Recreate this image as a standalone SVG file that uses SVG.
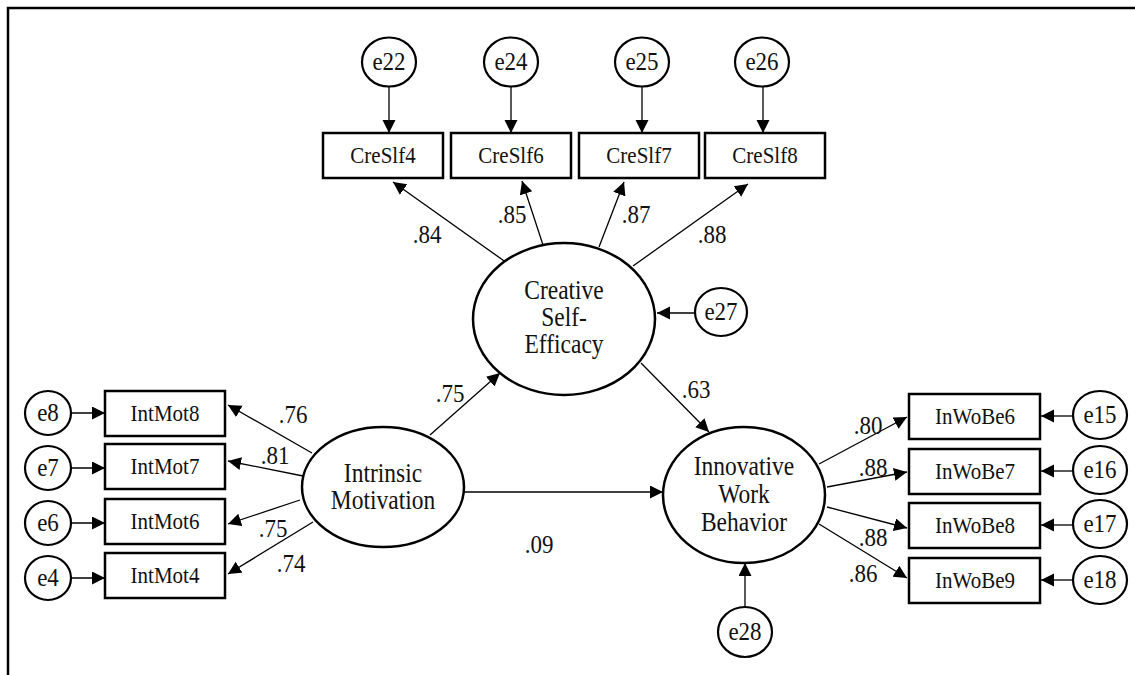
<svg xmlns="http://www.w3.org/2000/svg" width="1135" height="675" viewBox="0 0 1135 675">
<style>
.frame{stroke:#000;stroke-width:2.5;fill:none}
.box{fill:#fff;stroke:#000;stroke-width:2.5}
.ell{fill:#fff;stroke:#000;stroke-width:2.5}
.err{fill:#fff;stroke:#000;stroke-width:2.2}
.c line{stroke:#000;stroke-width:1.3;marker-end:url(#ah)}
text{font-family:"Liberation Serif","Times New Roman",serif;fill:#111;text-anchor:middle}
.bt{font-size:21px}
.et{font-size:23px}
.lt{font-size:23.5px}
.ct{font-size:23px}
</style>
<defs>
<marker id="ah" markerUnits="userSpaceOnUse" markerWidth="14" markerHeight="14" refX="13" refY="6.5" orient="auto">
<path d="M0,0 L13,6.5 L0,13 z" fill="#000"/>
</marker>
</defs>
<rect width="1135" height="675" fill="#fff"/>
<path class="frame" d="M8,675 V8 H1135"/>

<g class="c" id="connectors">
<line x1="389" y1="86" x2="389" y2="133"/>
<line x1="511" y1="87" x2="511" y2="133"/>
<line x1="642" y1="87" x2="642" y2="133"/>
<line x1="763" y1="87" x2="763" y2="133"/>
<line x1="507" y1="263" x2="393" y2="182"/>
<line x1="543" y1="245" x2="522" y2="181"/>
<line x1="599" y1="247" x2="624" y2="182"/>
<line x1="633" y1="266" x2="748" y2="184"/>
<line x1="695" y1="313" x2="657" y2="313"/>
<line x1="71" y1="413" x2="105" y2="413"/>
<line x1="71" y1="468" x2="105" y2="468"/>
<line x1="71" y1="523" x2="105" y2="523"/>
<line x1="71" y1="578" x2="105" y2="578"/>
<line x1="312" y1="453" x2="228" y2="405"/>
<line x1="303" y1="476" x2="228" y2="461"/>
<line x1="300" y1="500" x2="228" y2="524"/>
<line x1="313" y1="522" x2="228" y2="574"/>
<line x1="430" y1="435" x2="500" y2="373"/>
<line x1="464" y1="492" x2="663" y2="492"/>
<line x1="641" y1="363" x2="709" y2="432"/>
<line x1="745" y1="607" x2="745" y2="563"/>
<line x1="819" y1="464" x2="907" y2="417"/>
<line x1="827" y1="487" x2="907" y2="472"/>
<line x1="827" y1="507" x2="907" y2="528"/>
<line x1="819" y1="524" x2="907" y2="578"/>
<line x1="1073" y1="416" x2="1041" y2="416"/>
<line x1="1073" y1="471" x2="1041" y2="471"/>
<line x1="1073" y1="525" x2="1041" y2="525"/>
<line x1="1073" y1="580" x2="1041" y2="580"/>
</g>

<g id="coefficients" class="ct">
<text transform="translate(427,243) scale(1,1.12)">.84</text>
<text transform="translate(512,223) scale(1,1.12)">.85</text>
<text transform="translate(636,223) scale(1,1.12)">.87</text>
<text transform="translate(712,243) scale(1,1.12)">.88</text>
<text transform="translate(293,423) scale(1,1.12)">.76</text>
<text transform="translate(275,464) scale(1,1.12)">.81</text>
<text transform="translate(273,537) scale(1,1.12)">.75</text>
<text transform="translate(291,572) scale(1,1.12)">.74</text>
<text transform="translate(450,402) scale(1,1.12)">.75</text>
<text transform="translate(696,398) scale(1,1.12)">.63</text>
<text transform="translate(539,553) scale(1,1.12)">.09</text>
<text transform="translate(868,434) scale(1,1.12)">.80</text>
<text transform="translate(873,476) scale(1,1.12)">.88</text>
<text transform="translate(873,546) scale(1,1.12)">.88</text>
<text transform="translate(863,582) scale(1,1.12)">.86</text>
</g>

<g id="e22"><ellipse class="err" cx="389" cy="62" rx="27" ry="24.5"/><text class="et" transform="translate(389,70) scale(1,1.12)">e22</text></g>
<g id="e24"><ellipse class="err" cx="511" cy="62" rx="27" ry="24.5"/><text class="et" transform="translate(511,70) scale(1,1.12)">e24</text></g>
<g id="e25"><ellipse class="err" cx="642" cy="62" rx="27" ry="24.5"/><text class="et" transform="translate(642,70) scale(1,1.12)">e25</text></g>
<g id="e26"><ellipse class="err" cx="762" cy="62" rx="27" ry="24.5"/><text class="et" transform="translate(762,70) scale(1,1.12)">e26</text></g>

<g id="CreSlf4"><rect class="box" x="323" y="133" width="120" height="45"/><text class="bt" transform="translate(383,163) scale(1,1.14)">CreSlf4</text></g>
<g id="CreSlf6"><rect class="box" x="451" y="133" width="120" height="45"/><text class="bt" transform="translate(511,163) scale(1,1.14)">CreSlf6</text></g>
<g id="CreSlf7"><rect class="box" x="579" y="133" width="120" height="45"/><text class="bt" transform="translate(639,163) scale(1,1.14)">CreSlf7</text></g>
<g id="CreSlf8"><rect class="box" x="705" y="133" width="120" height="45"/><text class="bt" transform="translate(765,163) scale(1,1.14)">CreSlf8</text></g>

<g id="CSE"><ellipse class="ell" cx="564" cy="319" rx="91" ry="76"/>
<text class="lt" transform="translate(564,299) scale(1,1.12)">Creative</text>
<text class="lt" transform="translate(564,326) scale(1,1.12)">Self-</text>
<text class="lt" transform="translate(564,353) scale(1,1.12)">Efficacy</text></g>

<g id="e27"><ellipse class="err" cx="721" cy="312" rx="26" ry="24"/><text class="et" transform="translate(721,320) scale(1,1.12)">e27</text></g>

<g id="e8"><ellipse class="err" cx="48" cy="413" rx="23" ry="22"/><text class="et" transform="translate(48,421) scale(1,1.12)">e8</text></g>
<g id="e7"><ellipse class="err" cx="48" cy="468" rx="23" ry="22"/><text class="et" transform="translate(48,476) scale(1,1.12)">e7</text></g>
<g id="e6"><ellipse class="err" cx="48" cy="523" rx="23" ry="22"/><text class="et" transform="translate(48,531) scale(1,1.12)">e6</text></g>
<g id="e4"><ellipse class="err" cx="48" cy="578" rx="23" ry="22"/><text class="et" transform="translate(48,586) scale(1,1.12)">e4</text></g>

<g id="IntMot8"><rect class="box" x="105" y="391" width="120" height="45"/><text class="bt" transform="translate(165,421) scale(1,1.14)">IntMot8</text></g>
<g id="IntMot7"><rect class="box" x="105" y="444" width="120" height="45"/><text class="bt" transform="translate(165,474) scale(1,1.14)">IntMot7</text></g>
<g id="IntMot6"><rect class="box" x="105" y="499" width="120" height="45"/><text class="bt" transform="translate(165,529) scale(1,1.14)">IntMot6</text></g>
<g id="IntMot4"><rect class="box" x="105" y="553" width="120" height="45"/><text class="bt" transform="translate(165,583) scale(1,1.14)">IntMot4</text></g>

<g id="IM"><ellipse class="ell" cx="383" cy="487" rx="81" ry="60"/>
<text class="lt" transform="translate(383,482) scale(1,1.12)">Intrinsic</text>
<text class="lt" transform="translate(383,509) scale(1,1.12)">Motivation</text></g>

<g id="IWB"><ellipse class="ell" cx="744" cy="495" rx="81" ry="68"/>
<text class="lt" transform="translate(744,475) scale(1,1.12)">Innovative</text>
<text class="lt" transform="translate(744,503) scale(1,1.12)">Work</text>
<text class="lt" transform="translate(744,531) scale(1,1.12)">Behavior</text></g>

<g id="e28"><ellipse class="err" cx="745" cy="632" rx="27" ry="25"/><text class="et" transform="translate(745,640) scale(1,1.12)">e28</text></g>

<g id="InWoBe6"><rect class="box" x="909" y="394" width="131" height="45"/><text class="bt" transform="translate(975,424) scale(1,1.14)">InWoBe6</text></g>
<g id="InWoBe7"><rect class="box" x="909" y="449" width="131" height="45"/><text class="bt" transform="translate(975,479) scale(1,1.14)">InWoBe7</text></g>
<g id="InWoBe8"><rect class="box" x="909" y="503" width="131" height="45"/><text class="bt" transform="translate(975,533) scale(1,1.14)">InWoBe8</text></g>
<g id="InWoBe9"><rect class="box" x="909" y="558" width="131" height="45"/><text class="bt" transform="translate(975,588) scale(1,1.14)">InWoBe9</text></g>

<g id="e15"><ellipse class="err" cx="1100" cy="415" rx="27" ry="24"/><text class="et" transform="translate(1100,423) scale(1,1.12)">e15</text></g>
<g id="e16"><ellipse class="err" cx="1100" cy="470" rx="27" ry="24"/><text class="et" transform="translate(1100,478) scale(1,1.12)">e16</text></g>
<g id="e17"><ellipse class="err" cx="1100" cy="524" rx="27" ry="24"/><text class="et" transform="translate(1100,532) scale(1,1.12)">e17</text></g>
<g id="e18"><ellipse class="err" cx="1100" cy="580" rx="27" ry="24"/><text class="et" transform="translate(1100,588) scale(1,1.12)">e18</text></g>
</svg>
